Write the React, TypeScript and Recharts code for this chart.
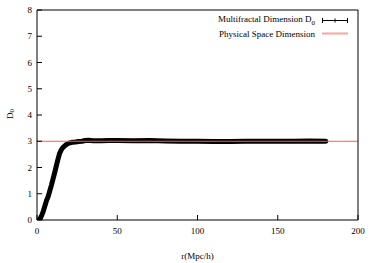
import { LineChart, Line, XAxis, YAxis, Label } from "recharts";

// D0(r) estimated from the plot
const radius = [1.2, 2, 3, 4, 5, 6, 7, 8, 9, 10, 11, 12, 13, 14, 15, 16, 17, 18, 19, 20, 22, 24, 26, 28, 30, 32, 35, 40, 45, 50, 60, 70, 80, 90, 100, 110, 120, 130, 140, 150, 160, 170, 180];
const d0 = [0, 0.05, 0.18, 0.35, 0.55, 0.75, 0.9, 1.12, 1.33, 1.57, 1.8, 2.05, 2.3, 2.52, 2.66, 2.75, 2.81, 2.86, 2.9, 2.93, 2.96, 2.97, 2.99, 3.0, 3.03, 3.04, 3.02, 3.02, 3.03, 3.03, 3.02, 3.03, 3.01, 3.0, 3.0, 2.99, 2.99, 3.0, 3.0, 3.0, 3.0, 3.01, 3.0];

// physical space dimension
const physR = [0, 200];
const physD = [3, 3];

const xTicks = [0, 50, 100, 150, 200];
const yTicks = [0, 1, 2, 3, 4, 5, 6, 7, 8];

const fractalData = radius.map((r, i) => ({ r, d: d0[i] }));
const physData = physR.map((r, i) => ({ r, d: physD[i] }));

const font = "'Liberation Serif', 'Times New Roman', serif";
const red = "#ff5a4a";

function ChartLegend() {
  const row = { display: "flex", justifyContent: "flex-end", alignItems: "center", height: 13 };
  return (
    <div style={{ position: "absolute", top: 14, right: 26, fontFamily: font, fontSize: 9, color: "#000", whiteSpace: "nowrap" }}>
      <div style={row}>
        <span>Multifractal Dimension D<sub style={{ fontSize: 7 }}>0</sub></span>
        <svg width={26} height={7} style={{ marginLeft: 7 }}>
          <line x1={0} y1={3.5} x2={26} y2={3.5} stroke="#000" />
          <line x1={0.5} y1={1} x2={0.5} y2={6} stroke="#000" />
          <line x1={13} y1={1.5} x2={13} y2={5.5} stroke="#000" />
          <line x1={25.5} y1={1} x2={25.5} y2={6} stroke="#000" />
        </svg>
      </div>
      <div style={row}>
        <span>Physical Space Dimension</span>
        <svg width={26} height={7} style={{ marginLeft: 7 }}>
          <line x1={0} y1={3.5} x2={26} y2={3.5} stroke="#f6a59c" strokeWidth={2} />
        </svg>
      </div>
    </div>
  );
}

export default function App() {
  return (
    <div style={{ position: "relative", width: 374, height: 263 }}>
      <style>{`body{margin:0}`}</style>
      <LineChart width={374} height={263} margin={{ top: 9, right: 15, left: 0, bottom: 0 }}>
        <XAxis dataKey="r" type="number" domain={[0, 200]} ticks={xTicks} height={43}
          stroke="#000" tickSize={-5} tickMargin={13} allowDataOverflow
          tick={{ fill: "#000", fontSize: 9, fontFamily: font }}>
          <Label position="insideBottom" offset={4} value="r(Mpc/h)"
            style={{ fill: "#000", fontSize: 9, fontFamily: font }} />
        </XAxis>
        <XAxis xAxisId="top" orientation="top" dataKey="r" type="number" domain={[0, 200]} ticks={xTicks}
          height={1} stroke="#000" tickSize={-5} tick={false} allowDataOverflow />
        <YAxis type="number" domain={[0, 8]} ticks={yTicks} width={37} stroke="#000"
          tickSize={-5} tickMargin={10} allowDataOverflow
          tick={{ fill: "#000", fontSize: 9, fontFamily: font }}>
          <Label content={() => (
            <text x={10} y={114} transform="rotate(-90, 10, 114)" textAnchor="middle"
              dominantBaseline="central" fontSize={9} fontFamily={font} fill="#000">
              D<tspan fontSize={7} dy={2}>0</tspan>
            </text>
          )} />
        </YAxis>
        <YAxis yAxisId="right" orientation="right" type="number" domain={[0, 8]} ticks={yTicks}
          width={1} stroke="#000" tickSize={-5} tick={false} allowDataOverflow />
        <Line data={fractalData} dataKey="d" stroke="#000" strokeWidth={5} strokeLinecap="round"
          strokeLinejoin="round" dot={false} isAnimationActive={false} />
        <Line data={physData} dataKey="d" xAxisId="top" yAxisId="right" stroke={red} strokeWidth={1}
          dot={false} isAnimationActive={false} />
      </LineChart>
      <ChartLegend />
    </div>
  );
}
